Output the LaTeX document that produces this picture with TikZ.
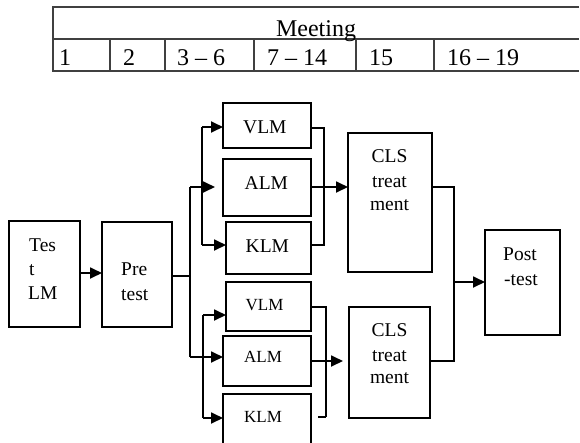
\documentclass[tikz,border=0pt]{standalone}
\usepackage{fontspec}
\setmainfont{Liberation Serif}
\usetikzlibrary{arrows.meta}
\begin{document}
\begin{tikzpicture}[x=1pt,y=-1pt,
  box/.style={draw, line width=1.8pt, outer sep=0pt, inner sep=0pt, anchor=north west},
  ln/.style={line width=1.8pt},
  arr/.style={line width=1.8pt, -{Triangle[length=12pt,width=11pt]}},
  tbl/.style={line width=1.1pt, draw=black!75},
  txt/.style={anchor=base west, inner sep=0pt, font=\fontsize{19.5}{23.5}\selectfont},
  stxt/.style={anchor=base west, inner sep=0pt, font=\fontsize{17}{20}\selectfont},
  ctxt/.style={anchor=base, inner sep=0pt, font=\fontsize{19.5}{23.5}\selectfont},
  ttxt/.style={inner sep=0pt, font=\fontsize{24}{28}\selectfont}]
\useasboundingbox (0,0) rectangle (580,442);
% table
\draw[tbl] (579,7) -- (53,7) -- (53,71) -- (579,71);
\draw[tbl] (53,39) -- (579,39);
\foreach \cx in {110,165,254,356,434} \draw[tbl] (\cx,39) -- (\cx,71);
\node[ttxt, anchor=base] (mt) at (316,36) {Meeting};
\node[ttxt, anchor=base west] (c1) at (59,65) {1};
\node[ttxt, anchor=base west] (c2) at (123,65) {2};
\node[ttxt, anchor=base west] (c3) at (177,65) {3 – 6};
\node[ttxt, anchor=base west] (c4) at (267,65) {7 – 14};
\node[ttxt, anchor=base west] (c5) at (369,65) {15};
\node[ttxt, anchor=base west] (c6) at (447,65) {16 – 19};
% boxes
\node[box, minimum width=71pt, minimum height=106pt] (test) at (9,221) {};
\node[box, minimum width=70pt, minimum height=105pt] (pre) at (102,222) {};
\node[box, minimum width=88pt, minimum height=45pt] (v1) at (223,103) {};
\node[box, minimum width=88pt, minimum height=57pt] (a1) at (223,159) {};
\node[box, minimum width=85pt, minimum height=52pt] (k1) at (226,222) {};
\node[box, minimum width=85pt, minimum height=49pt] (v2) at (226,282) {};
\node[box, minimum width=88pt, minimum height=50pt] (a2) at (223,336) {};
\node[box, minimum width=88pt, minimum height=52pt] (k2) at (223,394) {};
\node[box, minimum width=84pt, minimum height=139pt] (cls1) at (348,133) {};
\node[box, minimum width=81pt, minimum height=111pt] (cls2) at (349,307) {};
\node[box, minimum width=75pt, minimum height=105pt] (post) at (485,230) {};
% texts
\node[txt] (t1) at (29,251.7) {Tes};
\node[txt] (t2) at (29,275) {t};
\node[txt] (t3) at (28,299.3) {LM};
\node[txt] (p1) at (121,275) {Pre};
\node[txt] (p2) at (121,300) {test};
\node[txt] (tv1) at (243,133.3) {VLM};
\node[txt] (ta1) at (244.5,189.3) {ALM};
\node[txt] (tk1) at (245.5,252.3) {KLM};
\node[stxt] (tv2) at (245.5,310) {VLM};
\node[stxt] (ta2) at (244,362.7) {ALM};
\node[stxt] (tk2) at (244,422.3) {KLM};
\node[ctxt] (ca1) at (389.5,162.7) {CLS};
\node[ctxt] (ca2) at (389.5,187.7) {treat};
\node[ctxt] (ca3) at (389.5,210.5) {ment};
\node[ctxt] (cb1) at (389.5,336.7) {CLS};
\node[ctxt] (cb2) at (389.5,361) {treat};
\node[ctxt] (cb3) at (389.5,383.5) {ment};
\node[txt] (po1) at (503,260) {Post};
\node[txt] (po2) at (504,285) {-test};
% connectors
\coordinate (ta) at (80,273);
\draw[arr] (ta) -- (pre.west |- ta);
\coordinate (j0) at (190,276);
\coordinate (j0t) at (190,187);
\coordinate (j0b) at (190,357);
\draw[ln] (pre.east |- j0) -- (j0);
\draw[ln] (j0t) -- (j0b);
\coordinate (j1t) at (202,127);
\coordinate (j1b) at (202,245);
\draw[ln] (j1t) -- (j1b);
\draw[arr] (j1t) -- (v1.west |- j1t);
\draw[arr] (j1b) -- (k1.west |- j1b);
\draw[arr, shorten >=8pt] (j0t) -- (a1.west |- j0t);
\coordinate (j2t) at (203,315);
\coordinate (j2b) at (203,418);
\draw[ln] (j2t) -- (j2b);
\draw[arr] (j2t) -- (v2.west |- j2t);
\draw[arr] (j2b) -- (k2.west |- j2b);
\draw[arr] (j0b) -- (a2.west |- j0b);
% right brackets
\coordinate (r1t) at (324,128);
\coordinate (r1b) at (324,245);
\draw[ln] (v1.east |- r1t) -- (r1t) -- (r1b) -- (k1.east |- r1b);
\draw[arr] (a1.east |- j0t) -- (cls1.west |- j0t);
\coordinate (r2t) at (326,307);
\coordinate (r2b) at (326,417);
\draw[ln] (v2.east |- r2t) -- (r2t) -- (r2b);
\draw[ln, shorten <=7pt] (k2.east |- r2b) -- (r2b);
\draw[arr, shorten >=6pt] (a2.east) -- (cls2.west |- a2.east);
\coordinate (f1t) at (454,187);
\coordinate (f1b) at (454,361);
\coordinate (fm) at (454,282);
\draw[ln] (cls1.east |- f1t) -- (f1t) -- (f1b) -- (cls2.east |- f1b);
\draw[arr] (fm) -- (post.west |- fm);
\end{tikzpicture}
\end{document}
